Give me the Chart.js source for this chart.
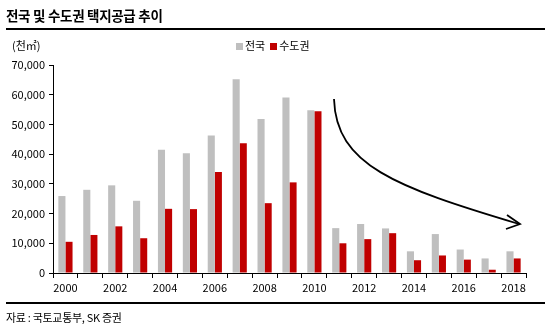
<!DOCTYPE html>
<html>
<head>
<meta charset="utf-8">
<script src="https://cdn.jsdelivr.net/npm/chart.js@4.4.1/dist/chart.umd.min.js"></script>
<style>
    body { margin: 0; background: #fff; font-family: 'Noto Sans CJK KR', sans-serif; }
    #wrap { position: relative; width: 551px; height: 335px; overflow: hidden; }
    #chart { position: absolute; left: 0; top: 0; }
    .title { position: absolute; left: 6px; top: 5px; font-size: 13.5px; font-weight: bold; color: #000; letter-spacing: -0.3px; }
    .rule { position: absolute; left: 6px; width: 539px; height: 2px; background: #000; }
    .unit { position: absolute; left: 12px; top: 37px; font-size: 11px; color: #000; }
    .legend { position: absolute; left: 236px; top: 37px; font-size: 11px; color: #000; }
    .legend span.box { display: inline-block; width: 7px; height: 7px; margin-right: 2px; vertical-align: 0px; }
    .source { position: absolute; left: 6px; top: 309px; font-size: 11px; color: #000; letter-spacing: -0.3px; }
</style>
</head>
<body>
<div id="wrap">
    <canvas id="chart" width="551" height="335"></canvas>
    <div class="title">전국 및 수도권 택지공급 추이</div>
    <div class="rule" style="top:28px"></div>
    <div class="unit">(천㎡)</div>
    <div class="legend"><span class="box" style="background:#bfbfbf"></span>전국&nbsp;&nbsp;<span class="box" style="background:#c00000"></span>수도권</div>
    <div class="rule" style="top:302px"></div>
    <div class="source">자료 : 국토교통부, SK 증권</div>
</div>
<script>
const years = ['2000', '2001', '2002', '2003', '2004', '2005', '2006', '2007', '2008', '2009',
    '2010', '2011', '2012', '2013', '2014', '2015', '2016', '2017', '2018'];
const nationwide = [25900, 28000, 29500, 24300, 41500, 40300, 46300, 65200, 51800, 59100,
    54800, 15100, 16500, 15000, 7300, 13100, 7900, 4900, 7300];
const capitalArea = [10500, 12800, 15700, 11700, 21600, 21500, 34000, 43700, 23500, 30500,
    54400, 10000, 11400, 13400, 4300, 5900, 4500, 1100, 4900];
const yTicks = [0, 10000, 20000, 30000, 40000, 50000, 60000, 70000];

// curved arrow showing the downward trend after 2010
const trendArrow = {
    id: 'trendArrow',
    afterDraw(chart) {
        const ctx = chart.ctx;
        ctx.save();
        ctx.strokeStyle = '#000';
        ctx.lineWidth = 1.8;
        ctx.beginPath();
        ctx.moveTo(334, 99);
        ctx.bezierCurveTo(336, 165, 395, 187, 519, 224);
        ctx.stroke();
        ctx.beginPath();
        ctx.moveTo(507, 215);
        ctx.lineTo(520, 224);
        ctx.lineTo(506, 229);
        ctx.stroke();
        ctx.restore();
    }
};

function renderChart() {
    Chart.defaults.font.family = "'Noto Sans CJK KR', sans-serif";
    Chart.defaults.color = '#000';
    const ctx = document.getElementById('chart').getContext('2d');
    new Chart(ctx, {
        type: 'bar',
        data: {
            labels: years,
            datasets: [{
                label: '전국',
                data: nationwide,
                backgroundColor: '#bfbfbf',
                categoryPercentage: 0.57,
                barPercentage: 1
            }, {
                label: '수도권',
                data: capitalArea,
                backgroundColor: '#c00000',
                categoryPercentage: 0.57,
                barPercentage: 1
            }]
        },
        options: {
            responsive: false,
            animation: false,
            layout: { padding: { top: 65, right: 25, left: 0, bottom: 34 } },
            plugins: {
                legend: { display: false },
                tooltip: { enabled: false }
            },
            scales: {
                x: {
                    offset: true,
                    grid: { offset: true, drawOnChartArea: false, drawTicks: true, tickLength: 5, color: '#000' },
                    border: { color: '#000', width: 1 },
                    ticks: {
                        autoSkip: false,
                        maxRotation: 0,
                        padding: 3,
                        font: { size: 11 },
                        callback: (v, i) => (i % 2 === 0 ? years[i] : '')
                    },
                    afterFit: s => { s.height = 28; }
                },
                y: {
                    min: 0,
                    max: 70000,
                    afterBuildTicks: s => { s.ticks = yTicks.map(v => ({ value: v })); },
                    grid: { drawOnChartArea: false, drawTicks: true, tickLength: 4, color: '#000' },
                    border: { color: '#000', width: 1 },
                    ticks: {
                        padding: 4,
                        font: { size: 11 },
                        callback: v => v.toLocaleString('en-US')
                    },
                    afterFit: s => { s.width = 53; }
                }
            }
        },
        plugins: [trendArrow]
    });
}

document.addEventListener('DOMContentLoaded', renderChart);
</script>
</body>
</html>
